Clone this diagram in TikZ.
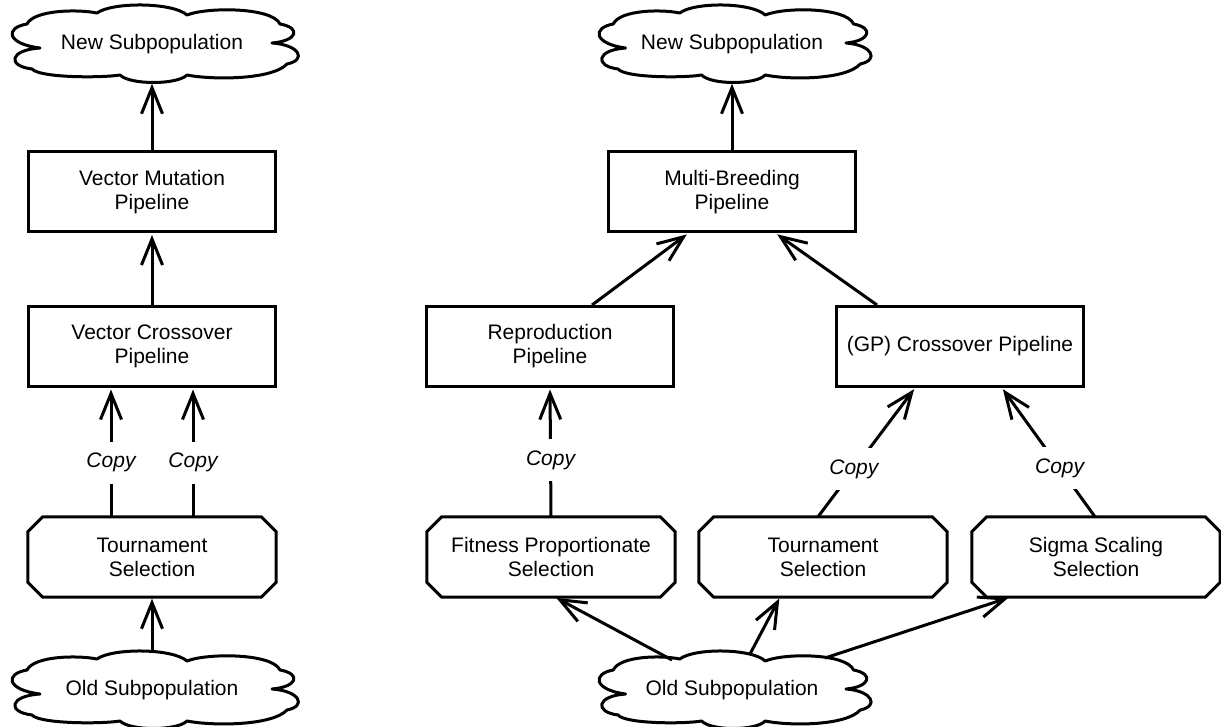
\documentclass[tikz,border=0pt]{standalone}
\usepackage{fontspec}
\setmainfont{Liberation Sans}
\usetikzlibrary{arrows.meta}
\tikzset{
  x=1pt, y=-1pt,
  every node/.style={font=\fontsize{21}{24}\selectfont},
  box/.style={draw, line width=3pt, minimum width=247pt, minimum height=80pt, align=center, inner sep=0pt},
  oct/.style={minimum width=248pt, minimum height=80pt, align=center, inner sep=0pt},
  octline/.style={line width=3pt, line join=miter},
  cloudtext/.style={inner sep=0pt, minimum width=270pt, minimum height=76pt},
  cloudline/.style={line width=3pt, line join=round},
  conn/.style={line width=3pt, shorten >=1.5pt, -{Straight Barb[length=26pt,width=21pt]}},
  copylbl/.style={fill=white, font=\fontsize{21}{24}\selectfont\itshape, minimum height=42pt, inner sep=1pt}
}
\newcommand{\mycloud}[2]{%
  \draw[cloudline, shift={(#1.center)}, xscale=#2]
    (-125,-20) .. controls (-118,-34) and (-75,-35) .. (-55,-31)
    .. controls (-40,-42) and (20,-42) .. (35,-29)
    .. controls (55,-37) and (120,-37) .. (128,-20)
    .. controls (150,-16) and (145,-3) .. (120,-1)
    .. controls (148,1) and (155,16) .. (135,20)
    .. controls (120,36) and (60,36) .. (35,31)
    .. controls (25,41) and (-22,41) .. (-32,31)
    .. controls (-50,34) and (-112,34) .. (-120,25)
    .. controls (-145,22) and (-143,6) .. (-112,4)
    .. controls (-145,0) and (-148,-16) .. cycle;
}
\newcommand{\myoct}[1]{%
  \draw[octline] ([xshift=15pt]#1.north west) -- ([xshift=-15pt]#1.north east)
    -- ([yshift=-15pt]#1.north east) -- ([yshift=15pt]#1.south east)
    -- ([xshift=-15pt]#1.south east) -- ([xshift=15pt]#1.south west)
    -- ([yshift=15pt]#1.south west) -- ([yshift=-15pt]#1.north west) -- cycle;
}
\begin{document}
\begin{tikzpicture}
\useasboundingbox (0,0) rectangle (1221,727);
% left column
\node[cloudtext] (NS1) at (152,44) {New Subpopulation};
\mycloud{NS1}{1}
\node[box] (VM) at (152,192) {Vector Mutation\\Pipeline};
\node[box] (VC) at (152,346.5) {Vector Crossover\\Pipeline};
\node[oct] (TS1) at (152,557) {Tournament\\Selection};
\myoct{TS1}
\node[cloudtext] (OS1) at (152,690) {Old Subpopulation};
\mycloud{OS1}{1}
\draw[conn] (VM.north) -- (NS1.south);
\draw[conn] (VC.north) -- (VM.south);
\draw[conn] ([xshift=-41pt]TS1.north) -- node[copylbl, pos=0.42] {Copy} ([xshift=-41pt]VC.south);
\draw[conn] ([xshift=41pt]TS1.north) -- node[copylbl, pos=0.42] {Copy} ([xshift=41pt]VC.south);
\draw[conn] (OS1.north) -- (TS1.south);
% right part
\node[cloudtext] (NS2) at (732,44) {New Subpopulation};
\mycloud{NS2}{0.95}
\node[box] (MB) at (732,192) {Multi-Breeding\\Pipeline};
\node[box] (RP) at (550,346.5) {Reproduction\\Pipeline};
\node[box] (GP) at (960,346.5) {(GP) Crossover Pipeline};
\node[oct] (FP) at (551,557) {Fitness Proportionate\\Selection};
\myoct{FP}
\node[oct] (TS2) at (823,557) {Tournament\\Selection};
\myoct{TS2}
\node[oct] (SS) at (1096,557) {Sigma Scaling\\Selection};
\myoct{SS}
\node[cloudtext] (OS2) at (732,690) {Old Subpopulation};
\mycloud{OS2}{0.95}
\path (OS2) ++(-60,-30) coordinate (OS2a);
\path (OS2) ++(18,-36) coordinate (OS2b);
\path (OS2) ++(93,-32) coordinate (OS2c);
\draw[conn] (MB.north) -- (NS2.south);
\draw[conn] ([xshift=42pt]RP.north) -- ([xshift=-44pt]MB.south);
\draw[conn] ([xshift=-83pt]GP.north) -- ([xshift=44pt]MB.south);
\draw[conn] (FP.north) -- node[copylbl, pos=0.44] {Copy} (RP.south);
\draw[conn] ([xshift=-5pt]TS2.north) -- node[copylbl, pos=0.37] {Copy} ([xshift=-45pt]GP.south);
\draw[conn] ([xshift=-1pt]SS.north) -- node[copylbl, pos=0.38] {Copy} ([xshift=42pt]GP.south);
\draw[conn] (OS2a) -- ([xshift=4pt]FP.south);
\draw[conn] (OS2b) -- ([xshift=-43pt]TS2.south);
\draw[conn] (OS2c) -- ([xshift=-86pt]SS.south);
\end{tikzpicture}
\end{document}
